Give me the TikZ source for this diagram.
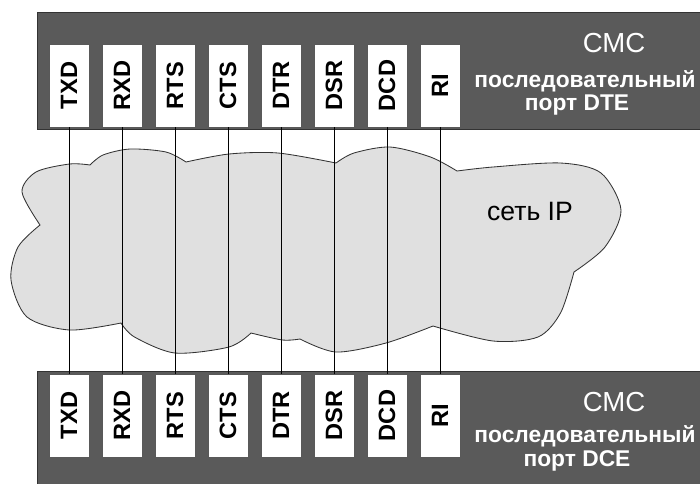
\documentclass[tikz,border=0pt]{standalone}
\usepackage{fontspec}
\setmainfont{Liberation Sans}
\definecolor{portgray}{RGB}{90,90,90}
\definecolor{cloudgray}{RGB}{224,224,224}
\tikzset{
	port/.style={draw=black!80, line width=0.5pt, fill=portgray},
	pin/.style={draw=black!65, line width=0.5pt, fill=white, minimum width=1cm,
		minimum height=2.075cm, inner sep=0pt, font=\bfseries\fontsize{16.8}{18}\selectfont},
	wire/.style={line width=0.6pt},
	cloud/.style={draw=black!80, line width=0.6pt, fill=cloudgray},
	cmc/.style={text=white, anchor=base, font=\fontsize{19.6}{21}\selectfont},
	porttext/.style={text=white, anchor=base, font=\bfseries\fontsize{16.2}{18}\selectfont},
}
\begin{document}
\begin{tikzpicture}[x=0.025cm,y=-0.025cm]
	\useasboundingbox (0,0) rectangle (700,483);
	% the two ports
	\draw[port] (37,12) rectangle (703,129);
	\draw[port] (37,371) rectangle (703,486);
	% network cloud
	\filldraw[cloud] plot[smooth] coordinates {(90,165) (69.5,164) (36,172) (22,192) (40,225)}
		-- plot[smooth] coordinates {(40,225) (18,247) (11,280) (27,317) (69.5,330) (121,323)}
		-- plot[smooth] coordinates {(121,323) (134.5,337) (175,353) (229,347) (251,333)}
		-- plot[smooth] coordinates {(251,333) (282.5,340) (300,339)}
		-- plot[smooth] coordinates {(300,339) (336,352) (386,343) (433,326)}
		-- plot[smooth] coordinates {(433,326) (493,341) (538,337) (560.5,313) (574,272)}
		-- plot[smooth] coordinates {(574,272) (605,247) (621,210) (601,173) (560.5,163) (493,167) (457,171)}
		-- plot[smooth] coordinates {(457,171) (430.5,157) (390,147) (354,153) (336,163)}
		-- plot[smooth] coordinates {(336,163) (278,153) (229,154) (186,162)}
		-- plot[smooth] coordinates {(186,162) (166,152) (130,149) (103,155) (90,165)} -- cycle;
	\node[font=\fontsize{18.9}{20}\selectfont] (ipnet) at (530,211) {сеть IP};
	% signal pins and wires
	\foreach \sig [count=\i] in {TXD,RXD,RTS,CTS,DTR,DSR,DCD,RI} {
		\node[pin] (dte\i) at ({69+53*(\i-1)},85.5) {\rotatebox{90}{\sig}};
		\node[pin] (dce\i) at ({69+53*(\i-1)},415.5) {\rotatebox{90}{\sig}};
		\draw[wire] (dte\i.south) -- (dce\i.north);
	}
	% port captions
	\node[cmc] (dtecmc) at (614,52) {СМС};
	\node[porttext] (dteser) at (585,87) {последовательный};
	\node[porttext] (dtename) at (577,110) {порт DTE};
	\node[cmc] (dcecmc) at (614,411) {СМС};
	\node[porttext] (dceser) at (585,442) {последовательный};
	\node[porttext] (dcename) at (577,466) {порт DCE};
\end{tikzpicture}
\end{document}
